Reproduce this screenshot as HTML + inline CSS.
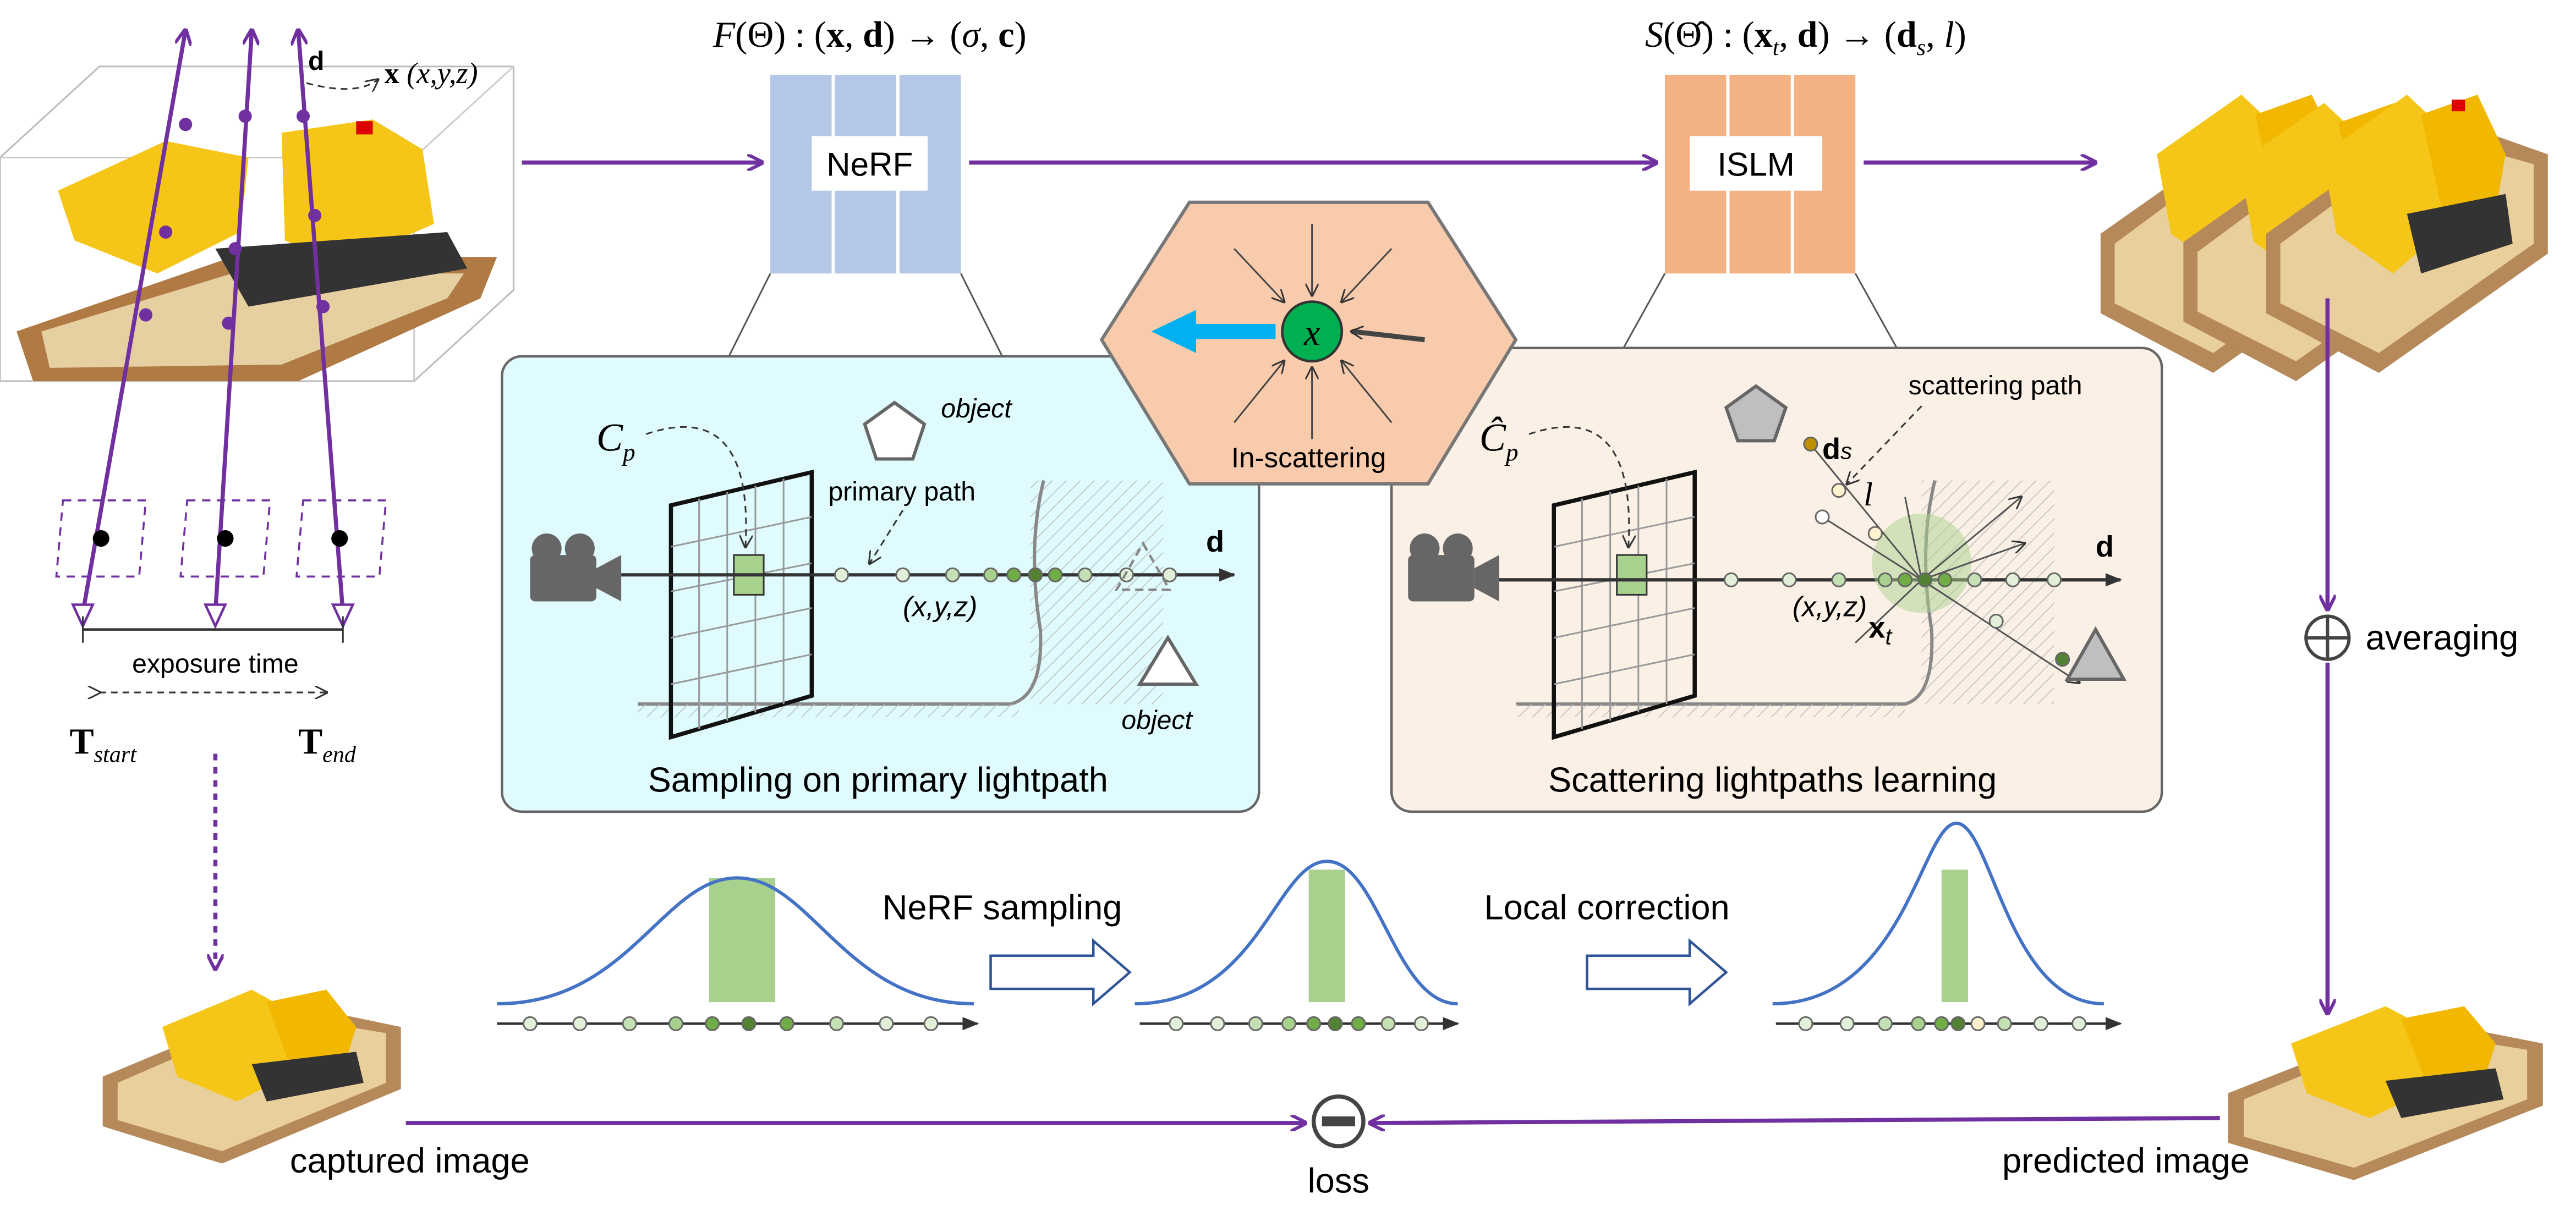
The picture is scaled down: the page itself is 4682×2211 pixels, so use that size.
<!DOCTYPE html>
<html><head><meta charset="utf-8"><style>
html,body{margin:0;padding:0;background:#fff;}
svg{display:block;}
text{font-family:"Liberation Sans",sans-serif;}
.ser{font-family:"Liberation Serif",serif;}
</style></head><body>
<svg width="4682" height="2211" viewBox="0 0 1555 734" xmlns="http://www.w3.org/2000/svg">
<defs>
<marker id="pa" markerWidth="10" markerHeight="10" refX="9" refY="5" orient="auto" markerUnits="userSpaceOnUse"><path d="M0,0 L10,5 L0,10" fill="none" stroke="#7030a0" stroke-width="2"/></marker>
<marker id="ga" markerWidth="10" markerHeight="10" refX="9" refY="5" orient="auto" markerUnits="userSpaceOnUse"><path d="M0,1 L10,5 L0,9 Z" fill="#333"/></marker>
<marker id="da" markerWidth="8" markerHeight="8" refX="7" refY="4" orient="auto" markerUnits="userSpaceOnUse"><path d="M0,0 L8,4 L0,8" fill="none" stroke="#333" stroke-width="1"/></marker>
<pattern id="hatch" width="6" height="6" patternUnits="userSpaceOnUse" patternTransform="rotate(45)"><line x1="0" y1="0" x2="0" y2="6" stroke="#bbb" stroke-width="1"/></pattern>
<g id="lego">
<polygon points="0,80 120,20 200,40 200,90 80,150 0,120" fill="#b5895a"/>
<polygon points="10,85 115,30 190,45 190,85 80,140 10,115" fill="#e8cf9b"/>
<polygon points="40,40 100,10 130,30 140,70 90,100 50,80" fill="#f5c518"/>
<polygon points="110,20 150,10 170,40 160,80 130,85" fill="#f2b800"/>
<polygon points="100,70 170,60 175,85 110,100" fill="#333"/>
</g>
</defs>

<!-- top-left scene -->
<polygon points="0,95 60,40 310,40 310,175 250,230 0,230" fill="none" stroke="#bbb" stroke-width="1"/>
<line x1="0" y1="95" x2="250" y2="95" stroke="#ccc"/>
<line x1="250" y1="95" x2="310" y2="40" stroke="#ccc"/>
<line x1="250" y1="95" x2="250" y2="230" stroke="#ccc"/>
<polygon points="10,200 140,155 300,155 290,180 180,230 20,230" fill="#b07a45"/>
<polygon points="25,200 140,165 280,165 270,180 170,220 30,222" fill="#e6cfa0"/>
<polygon points="35,115 100,85 150,95 145,140 95,165 45,145" fill="#f5c518"/>
<polygon points="170,80 225,72 255,90 262,135 205,160 172,145" fill="#f5c518"/>
<polygon points="130,150 270,140 282,162 150,185" fill="#333"/>
<rect x="215" y="73" width="10" height="8" fill="#d00"/>
<g stroke="#7030a0" stroke-width="2.5" fill="none">
<line x1="50" y1="370" x2="112" y2="18" marker-end="url(#pa)"/>
<line x1="130" y1="370" x2="152" y2="18" marker-end="url(#pa)"/>
<line x1="207" y1="370" x2="180" y2="18" marker-end="url(#pa)"/>
</g>
<g fill="#7030a0">
<circle cx="112" cy="75" r="4"/><circle cx="100" cy="140" r="4"/><circle cx="88" cy="190" r="4"/>
<circle cx="148" cy="70" r="4"/><circle cx="142" cy="150" r="4"/><circle cx="138" cy="195" r="4"/>
<circle cx="183" cy="70" r="4"/><circle cx="190" cy="130" r="4"/><circle cx="195" cy="185" r="4"/>
</g>
<g fill="#fff" stroke="#7030a0" stroke-width="1.5">
<path d="M44,365 L56,365 L50,378 Z"/><path d="M124,365 L136,365 L130,378 Z"/><path d="M201,365 L213,365 L207,378 Z"/>
</g>
<text x="186" y="42" font-size="16" font-weight="bold">d</text>
<path d="M185,50 Q215,58 228,48" fill="none" stroke="#333" stroke-dasharray="4,3" marker-end="url(#da)"/>
<text x="232" y="50" font-size="18" class="ser" font-weight="bold">x <tspan font-weight="normal" font-style="italic">(x,y,z)</tspan></text>
<g fill="none" stroke="#7030a0" stroke-dasharray="5,4" stroke-width="1.2">
<polygon points="38,302 88,302 84,348 34,348"/><polygon points="113,302 163,302 159,348 109,348"/><polygon points="183,302 233,302 229,348 179,348"/>
</g>
<circle cx="61" cy="325" r="5"/><circle cx="136" cy="325" r="5"/><circle cx="205" cy="325" r="5"/>
<line x1="50" y1="380" x2="207" y2="380" stroke="#333" stroke-width="1.5"/>
<line x1="50" y1="372" x2="50" y2="388" stroke="#333"/><line x1="207" y1="372" x2="207" y2="388" stroke="#333"/>
<text x="130" y="406" font-size="16" text-anchor="middle">exposure time</text>
<line x1="60" y1="418" x2="197" y2="418" stroke="#333" stroke-dasharray="4,3" marker-end="url(#da)" marker-start="url(#da)"/>
<text x="42" y="455" font-size="22" class="ser" font-weight="bold">T<tspan font-size="14" font-style="italic" font-weight="normal" dy="5">start</tspan></text>
<text x="180" y="455" font-size="22" class="ser" font-weight="bold">T<tspan font-size="14" font-style="italic" font-weight="normal" dy="5">end</tspan></text>
<line x1="130" y1="455" x2="130" y2="585" stroke="#7030a0" stroke-width="2.5" stroke-dasharray="4,4" marker-end="url(#pa)"/>

<!-- top row -->
<line x1="315" y1="98" x2="460" y2="98" stroke="#7030a0" stroke-width="2.5" marker-end="url(#pa)"/>
<rect x="465" y="45" width="37" height="120" fill="#b4c7e7"/><rect x="504" y="45" width="37" height="120" fill="#b4c7e7"/><rect x="543" y="45" width="37" height="120" fill="#b4c7e7"/>
<rect x="490" y="82" width="70" height="33" fill="#fff"/>
<text x="525" y="106" font-size="20" text-anchor="middle">NeRF</text>
<text x="525" y="28" font-size="22" class="ser" text-anchor="middle"><tspan font-style="italic">F</tspan>(Θ) : (<tspan font-weight="bold">x</tspan>, <tspan font-weight="bold">d</tspan>) → (<tspan font-style="italic">σ</tspan>, <tspan font-weight="bold">c</tspan>)</text>
<line x1="585" y1="98" x2="1000" y2="98" stroke="#7030a0" stroke-width="2.5" marker-end="url(#pa)"/>
<rect x="1005" y="45" width="37" height="120" fill="#f4b183"/><rect x="1044" y="45" width="37" height="120" fill="#f4b183"/><rect x="1083" y="45" width="37" height="120" fill="#f4b183"/>
<rect x="1020" y="82" width="80" height="33" fill="#fff"/>
<text x="1060" y="106" font-size="20" text-anchor="middle">ISLM</text>
<text x="1090" y="28" font-size="22" class="ser" text-anchor="middle"><tspan font-style="italic">S</tspan>(Θ̂) : (<tspan font-weight="bold">x</tspan><tspan font-size="14" font-style="italic" dy="5">t</tspan><tspan dy="-5">, </tspan><tspan font-weight="bold">d</tspan>) → (<tspan font-weight="bold">d</tspan><tspan font-size="14" font-style="italic" dy="5">s</tspan><tspan dy="-5">, </tspan><tspan font-style="italic">l</tspan>)</text>
<line x1="1125" y1="98" x2="1265" y2="98" stroke="#7030a0" stroke-width="2.5" marker-end="url(#pa)"/>
<use href="#lego" transform="translate(1268,45) scale(0.85,1.2)"/>
<use href="#lego" transform="translate(1318,50) scale(0.85,1.2)"/>
<use href="#lego" transform="translate(1368,45) scale(0.85,1.2)"/>
<rect x="1480" y="60" width="8" height="7" fill="#d00"/>

<!-- connector lines -->
<g stroke="#555" stroke-width="1"><line x1="465" y1="165" x2="440" y2="215"/><line x1="580" y1="165" x2="605" y2="215"/><line x1="1005" y1="165" x2="980" y2="210"/><line x1="1120" y1="165" x2="1145" y2="210"/></g>

<!-- left panel -->
<rect x="303" y="215" width="457" height="275" rx="12" fill="#dffbfd" stroke="#666" stroke-width="1.5"/>
<text x="530" y="478" font-size="21" text-anchor="middle">Sampling on primary lightpath</text>
<rect x="622" y="290" width="80" height="135" fill="url(#hatch)"/>
<path d="M385,425 L610,425 Q630,420 628,380 Q620,330 630,290" fill="none" stroke="#888" stroke-width="2"/>
<rect x="385" y="425" width="230" height="8" fill="url(#hatch)"/>
<g stroke="#111" stroke-width="2.5" fill="none"><polygon points="405,305 490,285 490,420 405,445"/></g>
<g stroke="#999" stroke-width="1"><line x1="405" y1="330" x2="490" y2="312"/><line x1="405" y1="357" x2="490" y2="340"/><line x1="405" y1="385" x2="490" y2="367"/><line x1="405" y1="413" x2="490" y2="395"/><line x1="422" y1="301" x2="422" y2="440"/><line x1="439" y1="297" x2="439" y2="435"/><line x1="456" y1="293" x2="456" y2="430"/><line x1="473" y1="289" x2="473" y2="425"/></g>
<rect x="443" y="335" width="18" height="24" fill="#a9d18e" stroke="#333"/>
<g transform="translate(320,325)" fill="#666"><rect x="0" y="10" width="40" height="28" rx="3"/><circle cx="10" cy="6" r="9"/><circle cx="30" cy="6" r="9"/><polygon points="40,18 55,10 55,38 40,30"/></g>
<line x1="375" y1="347" x2="745" y2="347" stroke="#333" stroke-width="2" marker-end="url(#ga)"/>
<text x="728" y="333" font-size="18" font-weight="bold">d</text>
<text x="360" y="272" font-size="24" class="ser" font-style="italic">C<tspan font-size="15" dy="6">p</tspan></text>
<path d="M390,262 Q455,240 450,330" fill="none" stroke="#333" stroke-dasharray="4,3" marker-end="url(#da)"/>
<polygon points="540,243 558,256 551,277 529,277 522,256" fill="#fff" stroke="#666" stroke-width="2"/>
<text x="568" y="252" font-size="16" font-style="italic">object</text>
<text x="500" y="302" font-size="16">primary path</text>
<path d="M545,308 L525,340" stroke="#333" stroke-dasharray="4,3" marker-end="url(#da)"/>
<text x="545" y="372" font-size="17" font-style="italic">(x,y,z)</text>
<g stroke="#666" stroke-width="1"><circle cx="508" cy="347" r="4" fill="#e2f0d9"/><circle cx="545" cy="347" r="4" fill="#e2f0d9"/><circle cx="575" cy="347" r="4" fill="#c5e0b4"/><circle cx="598" cy="347" r="4" fill="#a9d18e"/><circle cx="612" cy="347" r="4" fill="#70ad47"/><circle cx="625" cy="347" r="4" fill="#548235"/><circle cx="637" cy="347" r="4" fill="#70ad47"/><circle cx="655" cy="347" r="4" fill="#c5e0b4"/><circle cx="680" cy="347" r="4" fill="#e2f0d9"/><circle cx="706" cy="347" r="4" fill="#e2f0d9"/></g>
<polygon points="690,328 706,356 674,356" fill="none" stroke="#888" stroke-dasharray="5,3" stroke-width="1.5"/>
<polygon points="705,385 722,413 688,413" fill="#fff" stroke="#666" stroke-width="2"/>
<text x="677" y="440" font-size="16" font-style="italic">object</text>

<!-- right panel -->
<rect x="840" y="210" width="465" height="280" rx="12" fill="#fbf0e6" stroke="#666" stroke-width="1.5"/>
<text x="1070" y="478" font-size="21" text-anchor="middle">Scattering lightpaths learning</text>
<rect x="1160" y="290" width="80" height="135" fill="url(#hatch)"/>
<path d="M915,425 L1150,425 Q1168,420 1166,380 Q1158,330 1168,290" fill="none" stroke="#888" stroke-width="2"/>
<rect x="915" y="425" width="235" height="8" fill="url(#hatch)"/>
<g stroke="#111" stroke-width="2.5" fill="none"><polygon points="938,305 1023,285 1023,420 938,445"/></g>
<g stroke="#999" stroke-width="1"><line x1="938" y1="330" x2="1023" y2="312"/><line x1="938" y1="357" x2="1023" y2="340"/><line x1="938" y1="385" x2="1023" y2="367"/><line x1="938" y1="413" x2="1023" y2="395"/><line x1="955" y1="301" x2="955" y2="440"/><line x1="972" y1="297" x2="972" y2="435"/><line x1="989" y1="293" x2="989" y2="430"/><line x1="1006" y1="289" x2="1006" y2="425"/></g>
<rect x="976" y="335" width="18" height="24" fill="#a9d18e" stroke="#333"/>
<g transform="translate(850,325)" fill="#666"><rect x="0" y="10" width="40" height="28" rx="3"/><circle cx="10" cy="6" r="9"/><circle cx="30" cy="6" r="9"/><polygon points="40,18 55,10 55,38 40,30"/></g>
<line x1="905" y1="350" x2="1280" y2="350" stroke="#333" stroke-width="2" marker-end="url(#ga)"/>
<text x="1265" y="336" font-size="18" font-weight="bold">d</text>
<text x="893" y="272" font-size="24" class="ser" font-style="italic">Ĉ<tspan font-size="15" dy="6">p</tspan></text>
<path d="M923,262 Q988,240 983,330" fill="none" stroke="#333" stroke-dasharray="4,3" marker-end="url(#da)"/>
<circle cx="1160" cy="340" r="30" fill="#a9d18e" opacity="0.5"/>
<g stroke="#555" stroke-width="1" fill="none">
<line x1="1160" y1="350" x2="1092" y2="267"/><line x1="1160" y1="350" x2="1255" y2="412" marker-end="url(#da)"/>
<line x1="1160" y1="350" x2="1100" y2="312"/><line x1="1160" y1="350" x2="1220" y2="300" marker-end="url(#da)"/><line x1="1160" y1="350" x2="1222" y2="328" marker-end="url(#da)"/><line x1="1160" y1="350" x2="1120" y2="388"/><line x1="1160" y1="350" x2="1150" y2="300"/>
</g>
<polygon points="1060,233 1078,246 1071,266 1049,266 1042,246" fill="#bfbfbf" stroke="#666" stroke-width="2"/>
<text x="1100" y="277" font-size="18" font-weight="bold">d<tspan font-size="14" font-weight="normal" font-style="italic">s</tspan></text>
<text x="1152" y="238" font-size="16">scattering path</text>
<path d="M1160,245 L1115,292" stroke="#333" stroke-dasharray="4,3" marker-end="url(#da)"/>
<text x="1125" y="305" font-size="20" font-style="italic" class="ser">l</text>
<g stroke="#666" stroke-width="1"><circle cx="1093" cy="268" r="4" fill="#bf9000"/><circle cx="1110" cy="296" r="4" fill="#fff2cc"/><circle cx="1132" cy="322" r="4" fill="#fff2cc"/><circle cx="1100" cy="312" r="4" fill="#fff"/><circle cx="1205" cy="375" r="4" fill="#e2f0d9"/><circle cx="1245" cy="398" r="4" fill="#548235"/>
<circle cx="1045" cy="350" r="4" fill="#e2f0d9"/><circle cx="1080" cy="350" r="4" fill="#e2f0d9"/><circle cx="1110" cy="350" r="4" fill="#c5e0b4"/><circle cx="1138" cy="350" r="4" fill="#a9d18e"/><circle cx="1150" cy="350" r="4" fill="#70ad47"/><circle cx="1162" cy="350" r="4" fill="#548235"/><circle cx="1174" cy="350" r="4" fill="#70ad47"/><circle cx="1192" cy="350" r="4" fill="#c5e0b4"/><circle cx="1215" cy="350" r="4" fill="#e2f0d9"/><circle cx="1240" cy="350" r="4" fill="#e2f0d9"/></g>
<polygon points="1265,380 1282,410 1248,410" fill="#bfbfbf" stroke="#666" stroke-width="2"/>
<text x="1082" y="372" font-size="17" font-style="italic">(x,y,z)</text>
<text x="1128" y="385" font-size="18" font-weight="bold">x<tspan font-size="14" font-weight="normal" font-style="italic" dy="4">t</tspan></text>

<!-- hexagon -->
<polygon points="718,122 862,122 915,205 862,292 718,292 665,205" fill="#f8cbad" stroke="#777" stroke-width="2"/>
<g stroke="#444" stroke-width="1" marker-end="url(#da)">
<line x1="792" y1="135" x2="792" y2="178"/><line x1="840" y1="150" x2="810" y2="182"/><line x1="745" y1="150" x2="775" y2="182"/><line x1="792" y1="265" x2="792" y2="222"/><line x1="745" y1="255" x2="775" y2="218"/><line x1="840" y1="255" x2="810" y2="218"/><line x1="860" y1="205" x2="816" y2="200" stroke-width="3"/>
</g>
<line x1="770" y1="200" x2="715" y2="200" stroke="#00b0f0" stroke-width="9"/>
<polygon points="695,200 722,187 722,213" fill="#00b0f0"/>
<circle cx="792" cy="200" r="18" fill="#00b050" stroke="#333" stroke-width="1.5"/>
<text x="792" y="208" font-size="22" class="ser" font-style="italic" text-anchor="middle">x</text>
<text x="790" y="282" font-size="17" text-anchor="middle">In-scattering</text>

<!-- right column -->
<line x1="1405" y1="180" x2="1405" y2="368" stroke="#7030a0" stroke-width="2.5" marker-end="url(#pa)"/>
<circle cx="1405" cy="385" r="13" fill="none" stroke="#444" stroke-width="2"/>
<line x1="1392" y1="385" x2="1418" y2="385" stroke="#444" stroke-width="2"/><line x1="1405" y1="372" x2="1405" y2="398" stroke="#444" stroke-width="2"/>
<text x="1428" y="392" font-size="21">averaging</text>
<line x1="1405" y1="400" x2="1405" y2="612" stroke="#7030a0" stroke-width="2.5" marker-end="url(#pa)"/>
<use href="#lego" transform="translate(1345,600) scale(0.95,0.75)"/>
<text x="1358" y="708" font-size="21" text-anchor="end">predicted image</text>
<use href="#lego" transform="translate(62,590) scale(0.9,0.75)"/>
<text x="175" y="708" font-size="21">captured image</text>

<!-- loss -->
<line x1="245" y1="678" x2="788" y2="678" stroke="#7030a0" stroke-width="2.5" marker-end="url(#pa)"/>
<line x1="1340" y1="675" x2="827" y2="678" stroke="#7030a0" stroke-width="2.5" marker-end="url(#pa)"/>
<circle cx="808" cy="677" r="15" fill="#fff" stroke="#444" stroke-width="2.5"/>
<rect x="798" y="674" width="20" height="6" fill="#444"/>
<text x="808" y="720" font-size="21" text-anchor="middle">loss</text>

<!-- bottom graphs -->
<rect x="428" y="530" width="40" height="75" fill="#a9d18e"/>
<path d="M300,606 C380,606 400,530 445,530 C490,530 510,606 588,606" fill="none" stroke="#4472c4" stroke-width="2"/>
<line x1="300" y1="618" x2="590" y2="618" stroke="#333" stroke-width="1.5" marker-end="url(#ga)"/>
<g stroke="#666" stroke-width="1"><circle cx="320" cy="618" r="4" fill="#e2f0d9"/><circle cx="350" cy="618" r="4" fill="#e2f0d9"/><circle cx="380" cy="618" r="4" fill="#c5e0b4"/><circle cx="408" cy="618" r="4" fill="#a9d18e"/><circle cx="430" cy="618" r="4" fill="#70ad47"/><circle cx="452" cy="618" r="4" fill="#548235"/><circle cx="475" cy="618" r="4" fill="#70ad47"/><circle cx="505" cy="618" r="4" fill="#c5e0b4"/><circle cx="535" cy="618" r="4" fill="#e2f0d9"/><circle cx="562" cy="618" r="4" fill="#e2f0d9"/></g>
<text x="605" y="555" font-size="21" text-anchor="middle">NeRF sampling</text>
<polygon points="598,577 660,577 660,568 682,587 660,606 660,597 598,597" fill="#fff" stroke="#2f5597" stroke-width="1.5"/>
<rect x="790" y="525" width="22" height="80" fill="#a9d18e"/>
<path d="M685,606 C760,606 770,520 801,520 C832,520 842,606 880,606" fill="none" stroke="#4472c4" stroke-width="2"/>
<line x1="688" y1="618" x2="880" y2="618" stroke="#333" stroke-width="1.5" marker-end="url(#ga)"/>
<g stroke="#666" stroke-width="1"><circle cx="710" cy="618" r="4" fill="#e2f0d9"/><circle cx="735" cy="618" r="4" fill="#e2f0d9"/><circle cx="758" cy="618" r="4" fill="#c5e0b4"/><circle cx="778" cy="618" r="4" fill="#a9d18e"/><circle cx="793" cy="618" r="4" fill="#70ad47"/><circle cx="806" cy="618" r="4" fill="#548235"/><circle cx="820" cy="618" r="4" fill="#70ad47"/><circle cx="838" cy="618" r="4" fill="#c5e0b4"/><circle cx="858" cy="618" r="4" fill="#e2f0d9"/></g>
<text x="970" y="555" font-size="21" text-anchor="middle">Local correction</text>
<polygon points="958,577 1020,577 1020,568 1042,587 1020,606 1020,597 958,597" fill="#fff" stroke="#2f5597" stroke-width="1.5"/>
<rect x="1172" y="525" width="16" height="80" fill="#a9d18e"/>
<path d="M1070,606 C1150,606 1160,497 1181,497 C1202,497 1212,606 1270,606" fill="none" stroke="#4472c4" stroke-width="2"/>
<line x1="1072" y1="618" x2="1280" y2="618" stroke="#333" stroke-width="1.5" marker-end="url(#ga)"/>
<g stroke="#666" stroke-width="1"><circle cx="1090" cy="618" r="4" fill="#e2f0d9"/><circle cx="1115" cy="618" r="4" fill="#e2f0d9"/><circle cx="1138" cy="618" r="4" fill="#c5e0b4"/><circle cx="1158" cy="618" r="4" fill="#a9d18e"/><circle cx="1172" cy="618" r="4" fill="#70ad47"/><circle cx="1182" cy="618" r="4" fill="#548235"/><circle cx="1194" cy="618" r="4" fill="#fff2cc"/><circle cx="1210" cy="618" r="4" fill="#c5e0b4"/><circle cx="1232" cy="618" r="4" fill="#e2f0d9"/><circle cx="1255" cy="618" r="4" fill="#e2f0d9"/></g>
</svg>
</body></html>
